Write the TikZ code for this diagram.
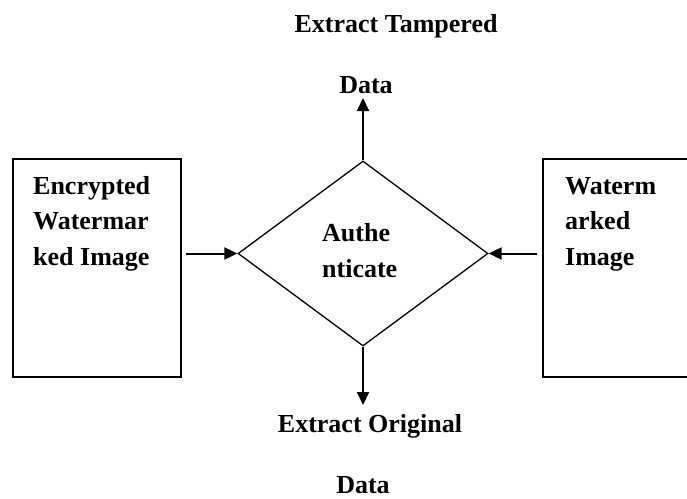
\documentclass[tikz,border=0pt]{standalone}
\usepackage{fontspec}
\setmainfont{Liberation Serif}
\usetikzlibrary{shapes.geometric,arrows.meta}
\begin{document}
\begin{tikzpicture}[x=1pt,y=-1pt,
  box/.style={draw,line width=1.3pt,rectangle,minimum width=168pt,minimum height=218pt,inner sep=0pt},
  decision/.style={draw,line width=1.3pt,diamond,minimum width=250pt,minimum height=185pt,inner sep=0pt},
  lbl/.style={font=\fontsize{26}{35.5}\selectfont\bfseries,inner sep=0pt,align=left},
  flow/.style={line width=2pt,-{Triangle[length=13pt,width=12pt]}}]
\useasboundingbox (0,0) rectangle (687,498);
\clip (0,0) rectangle (687,498);
\node[box] (L) at (97,268) {};
\node[box] (R) at (627,268) {};
\node[decision] (D) at (363,253.5) {};
\coordinate (up) at (363,98);
\coordinate (down) at (363,405);
\node[lbl,anchor=base west] (Lt) at (33,265) {Encrypted\\Watermar\\ked Image};
\node[lbl,anchor=base west] (Rt) at (565,265) {Waterm\\arked\\Image};
\node[lbl,anchor=base west] (Dt) at (322,277) {Authe\\nticate};
\node[lbl,anchor=base] (t1) at (396,32) {Extract Tampered};
\node[lbl,anchor=base] (t2) at (366,93) {Data};
\node[lbl,anchor=base] (b1) at (370,432) {Extract Original};
\node[lbl,anchor=base] (b2) at (363,493) {Data};
\draw[flow,shorten <=4pt] (L.east |- D.west) -- (D.west);
\draw[flow,shorten <=5pt] (R.west |- D.east) -- (D.east);
\draw[flow] (D.north) -- (up);
\draw[flow] (D.south) -- (down);
\end{tikzpicture}
\end{document}
